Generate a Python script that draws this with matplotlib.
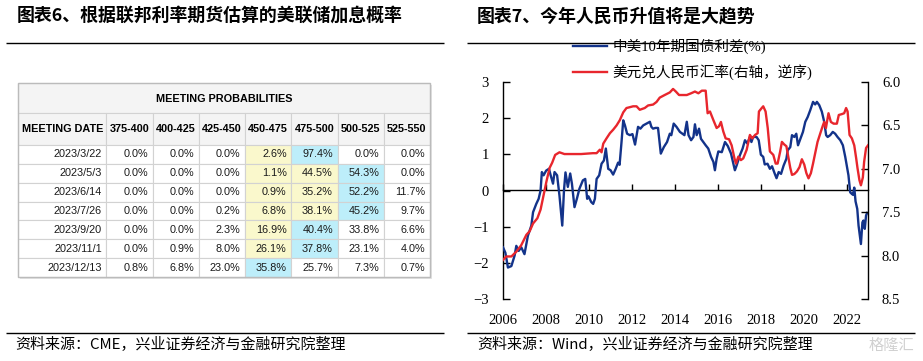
import matplotlib
matplotlib.use("Agg")
import matplotlib.pyplot as plt
from matplotlib.patches import Rectangle
from matplotlib.ticker import FormatStrFormatter
import numpy as np

# ---------------- data: left table ----------------
table_title = "MEETING PROBABILITIES"
first_col_label = "MEETING DATE"
meeting_dates = ["2023/3/22", "2023/5/3", "2023/6/14", "2023/7/26",
                 "2023/9/20", "2023/11/1", "2023/12/13"]
rate_ranges = ["375-400", "400-425", "425-450", "450-475",
               "475-500", "500-525", "525-550"]
probabilities = [
    [0.0, 0.0, 0.0, 2.6, 97.4, 0.0, 0.0],
    [0.0, 0.0, 0.0, 1.1, 44.5, 54.3, 0.0],
    [0.0, 0.0, 0.0, 0.9, 35.2, 52.2, 11.7],
    [0.0, 0.0, 0.2, 6.8, 38.1, 45.2, 9.7],
    [0.0, 0.0, 2.3, 16.9, 40.4, 33.8, 6.6],
    [0.0, 0.9, 8.0, 26.1, 37.8, 23.1, 4.0],
    [0.8, 6.8, 23.0, 35.8, 25.7, 7.3, 0.7],
]
# 0 = plain, 1 = yellow, 2 = cyan
highlight = [
    [0, 0, 0, 1, 2, 0, 0],
    [0, 0, 0, 1, 1, 2, 0],
    [0, 0, 0, 1, 1, 2, 0],
    [0, 0, 0, 1, 1, 2, 0],
    [0, 0, 0, 1, 2, 0, 0],
    [0, 0, 0, 1, 2, 0, 0],
    [0, 0, 0, 2, 0, 0, 0],
]

# ---------------- data: right chart ----------------
spread_label = "中美10年期国债利差(%)"
fx_label = "美元兑人民币汇率(右轴，逆序)"
spread_years = [
    2006.00, 2006.11, 2006.23, 2006.39, 2006.54, 2006.62, 2006.73, 2006.85, 2007.00, 2007.16,
    2007.32, 2007.40, 2007.55, 2007.66, 2007.75, 2007.81, 2007.89, 2008.01, 2008.14, 2008.22,
    2008.33, 2008.40, 2008.52, 2008.63, 2008.76, 2008.84, 2008.91, 2009.02, 2009.13, 2009.21,
    2009.33, 2009.44, 2009.56, 2009.72, 2009.83, 2009.92, 2009.98, 2010.11, 2010.20, 2010.28,
    2010.36, 2010.48, 2010.59, 2010.70, 2010.79, 2010.90, 2011.01, 2011.13, 2011.25, 2011.36,
    2011.43, 2011.52, 2011.60, 2011.68, 2011.78, 2011.91, 2012.03, 2012.15, 2012.29, 2012.40,
    2012.53, 2012.68, 2012.84, 2012.91, 2012.99, 2013.10, 2013.22, 2013.35, 2013.49, 2013.64,
    2013.77, 2013.84, 2013.95, 2014.08, 2014.24, 2014.36, 2014.45, 2014.56, 2014.64, 2014.76,
    2014.87, 2014.94, 2015.02, 2015.13, 2015.22, 2015.33, 2015.44, 2015.56, 2015.69, 2015.80,
    2015.87, 2015.95, 2016.03, 2016.19, 2016.34, 2016.47, 2016.62, 2016.73, 2016.80, 2016.88,
    2017.03, 2017.16, 2017.27, 2017.38, 2017.50, 2017.57, 2017.65, 2017.81, 2017.91, 2018.01,
    2018.12, 2018.19, 2018.32, 2018.43, 2018.53, 2018.66, 2018.74, 2018.84, 2018.95, 2019.07,
    2019.20, 2019.26, 2019.38, 2019.46, 2019.57, 2019.66, 2019.74, 2019.85, 2019.97, 2020.08,
    2020.19, 2020.31, 2020.44, 2020.54, 2020.62, 2020.73, 2020.85, 2020.96, 2021.05, 2021.12,
    2021.24, 2021.36, 2021.47, 2021.58, 2021.71, 2021.83, 2021.94, 2022.01, 2022.09, 2022.17,
    2022.24, 2022.30, 2022.36, 2022.42, 2022.50, 2022.56, 2022.67, 2022.74, 2022.79, 2022.85,
    2022.91, 2022.96,
]
spread_values = [
    -1.57, -1.72, -2.13, -2.09, -1.80, -1.53, -1.67, -1.57, -1.76, -1.25,
    -0.97, -0.60, -0.37, -0.23, 0.00, 0.51, 0.42, 0.55, 0.60, 0.42,
    0.19, 0.51, 0.42, -0.14, -0.97, 0.00, 0.50, 0.10, 0.47, 0.19,
    -0.46, -0.23, 0.05, 0.28, 0.32, -0.23, -0.16, -0.32, -0.37, -0.23,
    0.32, 0.42, 0.74, 0.83, 1.16, 0.60, 0.56, 0.44, 0.60, 0.77,
    0.71, 1.34, 1.94, 1.80, 1.57, 1.53, 1.56, 1.27, 1.76, 1.71,
    1.80, 1.85, 1.90, 1.76, 1.71, 1.73, 1.73, 1.02, 1.20, 1.34,
    1.57, 1.53, 1.85, 1.76, 1.62, 1.57, 1.53, 1.90, 1.53, 1.39,
    1.48, 1.83, 1.53, 1.71, 1.43, 1.34, 1.25, 1.16, 0.93, 0.79,
    0.56, 0.88, 1.08, 1.06, 1.34, 1.23, 1.02, 0.74, 0.56, 0.69,
    0.97, 1.16, 1.39, 1.30, 1.48, 1.34, 1.48, 1.48, 1.39, 0.99,
    0.93, 0.72, 0.74, 0.60, 0.67, 0.46, 0.34, 0.51, 0.46, 0.69,
    0.88, 1.11, 1.20, 1.53, 1.48, 1.57, 1.25, 1.43, 1.62, 1.90,
    2.03, 2.22, 2.45, 2.38, 2.45, 2.36, 2.18, 1.90, 1.53, 1.48,
    1.53, 1.62, 1.57, 1.48, 1.39, 1.25, 0.93, 0.69, 0.42, -0.05,
    -0.09, -0.12, 0.08, -0.30, -0.51, -0.97, -1.48, -0.88, -0.83, -1.06,
    -0.69, -0.62,
]
fx_years = [
    2006.00, 2006.15, 2006.39, 2006.62, 2006.85, 2007.09, 2007.24, 2007.40, 2007.60, 2007.75,
    2007.86, 2008.02, 2008.17, 2008.29, 2008.43, 2008.63, 2008.86, 2009.18, 2009.64, 2010.19,
    2010.36, 2010.51, 2010.59, 2010.67, 2010.82, 2010.98, 2011.13, 2011.29, 2011.44, 2011.60,
    2011.75, 2011.91, 2012.06, 2012.22, 2012.37, 2012.60, 2012.76, 2012.99, 2013.15, 2013.30,
    2013.53, 2013.77, 2013.92, 2014.05, 2014.20, 2014.36, 2014.56, 2014.76, 2014.94, 2015.10,
    2015.26, 2015.44, 2015.53, 2015.64, 2015.80, 2015.95, 2016.06, 2016.15, 2016.26, 2016.37,
    2016.53, 2016.65, 2016.78, 2016.85, 2016.96, 2017.08, 2017.19, 2017.35, 2017.50, 2017.61,
    2017.74, 2017.86, 2017.92, 2018.05, 2018.12, 2018.23, 2018.33, 2018.43, 2018.59, 2018.70,
    2018.79, 2018.91, 2018.99, 2019.10, 2019.20, 2019.30, 2019.38, 2019.46, 2019.57, 2019.69,
    2019.81, 2019.92, 2020.03, 2020.13, 2020.23, 2020.34, 2020.44, 2020.54, 2020.65, 2020.78,
    2020.90, 2020.96, 2021.04, 2021.16, 2021.27, 2021.40, 2021.55, 2021.64, 2021.78, 2021.89,
    2021.98, 2022.05, 2022.14, 2022.25, 2022.36, 2022.45, 2022.51, 2022.60, 2022.67, 2022.76,
    2022.82, 2022.91, 2023.00,
]
fx_values = [
    8.05, 8.01, 8.01, 7.955, 7.88, 7.76, 7.72, 7.63, 7.57, 7.47,
    7.34, 7.15, 6.99, 6.93, 6.84, 6.81, 6.83, 6.83, 6.83, 6.82,
    6.82, 6.78, 6.81, 6.71, 6.65, 6.59, 6.55, 6.50, 6.44, 6.35,
    6.30, 6.29, 6.28, 6.28, 6.32, 6.30, 6.27, 6.26, 6.23, 6.18,
    6.15, 6.12, 6.08, 6.11, 6.15, 6.15, 6.15, 6.13, 6.11, 6.13,
    6.10, 6.10, 6.36, 6.34, 6.44, 6.53, 6.51, 6.46, 6.57, 6.65,
    6.66, 6.73, 6.88, 6.94, 6.86, 6.90, 6.88, 6.78, 6.61, 6.65,
    6.61, 6.59, 6.34, 6.30, 6.28, 6.34, 6.53, 6.80, 6.84, 6.94,
    6.94, 6.80, 6.69, 6.72, 6.74, 6.88, 6.99, 7.07, 7.06, 7.03,
    6.98, 6.89, 6.95, 7.05, 7.11, 7.05, 6.94, 6.82, 6.69, 6.59,
    6.50, 6.46, 6.53, 6.36, 6.46, 6.48, 6.48, 6.38, 6.37, 6.36,
    6.30, 6.34, 6.61, 6.65, 6.73, 6.88, 6.99, 7.13, 7.19, 7.10,
    6.92, 6.76, 6.73,
]
x_tick_years = [2006, 2008, 2010, 2012, 2014, 2016, 2018, 2020, 2022]
left_ticks = [-3, -2, -1, 0, 1, 2, 3]
right_ticks = [6.0, 6.5, 7.0, 7.5, 8.0, 8.5]

title_left = "图表6、根据联邦利率期货估算的美联储加息概率"
title_right = "图表7、今年人民币升值将是大趋势"
source_left = "资料来源：CME，兴业证券经济与金融研究院整理"
source_right = "资料来源：Wind，兴业证券经济与金融研究院整理"

# ---------------- style ----------------
CJK = ['Noto Sans CJK SC', 'DejaVu Sans']
SERIF_CJK = ['Liberation Serif', 'Noto Sans CJK SC']
BLUE = '#13338A'
RED = '#E8262D'
YELLOW = '#FAF8CC'
CYAN = '#BDEEFA'
HEAD_BG = '#F4F4F4'
GRID = '#D2D2D2'

W, H = 923, 361
fig = plt.figure(figsize=(W / 100, H / 100), dpi=100)
fig.patch.set_facecolor('white')

# overlay in pixel coordinates for titles, rules and table
ov = fig.add_axes([0, 0, 1, 1])
ov.set_xlim(0, W)
ov.set_ylim(H, 0)
ov.axis('off')

ov.text(17, 16, title_left, fontsize=12.9, fontweight='bold', va='center', ha='left', family=CJK)
ov.text(477, 16, title_right, fontsize=12.9, fontweight='bold', va='center', ha='left', family=CJK)
for x0, x1 in [(6, 444), (467, 915)]:
    ov.plot([x0, x1], [42.5, 42.5], color='black', lw=1.0, solid_capstyle='butt')
    ov.plot([x0, x1], [332.5, 332.5], color='black', lw=1.0, solid_capstyle='butt')
ov.text(15, 345, source_left, fontsize=10.8, va='center', ha='left', family=CJK)
ov.text(477, 345, source_right, fontsize=10.8, va='center', ha='left', family=CJK)
ov.text(914, 345, "格隆汇", fontsize=11, va='center', ha='right', family=CJK, color='#D0D0D0')

# ---------------- table ----------------
tx0, tx1 = 18, 430
ty0, ty_mid, ty1 = 83, 113, 277
# shadow + header band
ov.add_patch(Rectangle((tx0 + 2, ty0 + 2), tx1 - tx0, ty1 - ty0, facecolor='#E4E4E4', edgecolor='none', zorder=1))
ov.add_patch(Rectangle((tx0, ty0), tx1 - tx0, ty_mid - ty0, facecolor=HEAD_BG, edgecolor=GRID, lw=0.8, zorder=2))
ov.text((tx0 + tx1) / 2, (ty0 + ty_mid) / 2 + 1, table_title, ha='center', va='center',
        fontsize=7.8, fontweight='bold', family='Liberation Sans', zorder=3)

col_labels = [first_col_label] + rate_ranges
cell_text = [[d] + [f"{v:.1f}%" for v in row] for d, row in zip(meeting_dates, probabilities)]
fill_map = {0: 'white', 1: YELLOW, 2: CYAN}
cell_colours = [['white'] + [fill_map[h] for h in hrow] for hrow in highlight]

tab = ov.table(cellText=cell_text, colLabels=col_labels, cellColours=cell_colours,
               cellLoc='right', colLoc='center',
               bbox=[tx0 / W, 1 - ty1 / H, (tx1 - tx0) / W, (ty1 - ty_mid) / H])
tab.auto_set_font_size(False)
tab.set_zorder(3)
for (r, c), cell in tab.get_celld().items():
    cell.set_width(88.4 if c == 0 else 46.2)
    cell.set_height(32 if r == 0 else 18.85)
    cell.set_edgecolor(GRID)
    cell.set_linewidth(0.8)
    txt = cell.get_text()
    txt.set_fontsize(7.8)
    txt.set_fontfamily('Liberation Sans')
    txt.set_color('#1a1a1a')
    if r == 0:
        cell.set_facecolor(HEAD_BG)
        txt.set_fontweight('bold')
        txt.set_color('black')
    if c == 0 and r > 0:
        cell.PAD = 0.05
ov.add_patch(Rectangle((tx0, ty0), tx1 - tx0, ty1 - ty0, facecolor='none', edgecolor='#BBBBBB', lw=1.0, zorder=4))

# ---------------- right chart ----------------
ax = fig.add_axes([503 / W, 1 - 299 / H, 365 / W, 217 / H])
ax.patch.set_alpha(0)
ax.plot(spread_years, spread_values, color=BLUE, lw=1.7, label=spread_label, zorder=3)
ax.set_xlim(2006, 2023)
ax.set_ylim(-3, 3)
ax.set_yticks(left_ticks)
ax.set_xticks(x_tick_years)
ax.set_xticklabels([str(y) for y in x_tick_years])
for s in ['top', 'bottom', 'right']:
    ax.spines[s].set_visible(False)
ax.spines['left'].set_linewidth(1.0)
ax.tick_params(axis='y', direction='in', length=5, width=1, pad=10, labelsize=10.5)
ax.tick_params(axis='x', length=0, pad=11, labelsize=10.5)
for lab in ax.get_xticklabels() + ax.get_yticklabels():
    lab.set_fontfamily('Liberation Serif')

sec = ax.secondary_xaxis(0.5)
sec.set_xticks(x_tick_years)
sec.tick_params(axis='x', direction='out', length=4, width=1, labeltop=False, labelbottom=False)
for s in sec.spines.values():
    s.set_linewidth(1.0)

ax2 = ax.twinx()
ax2.plot(fx_years, fx_values, color=RED, lw=1.7, label=fx_label, zorder=3)
ax2.set_ylim(8.5, 6.0)
ax2.set_yticks(right_ticks)
ax2.yaxis.set_major_formatter(FormatStrFormatter('%.1f'))
for s in ['top', 'bottom', 'left']:
    ax2.spines[s].set_visible(False)
ax2.spines['right'].set_linewidth(1.0)
ax2.tick_params(axis='y', direction='in', length=5, width=1, pad=10, labelsize=10.5)
for lab in ax2.get_yticklabels():
    lab.set_fontfamily('Liberation Serif')

h1, l1 = ax.get_legend_handles_labels()
h2, l2 = ax2.get_legend_handles_labels()
leg = fig.legend(h1 + h2, l1 + l2, loc='center left',
                 bbox_to_anchor=(573 / W, 1 - 59.5 / H), bbox_transform=fig.transFigure,
                 frameon=False, borderpad=0, borderaxespad=0, handlelength=2.35,
                 handletextpad=0.35, labelspacing=0.7,
                 prop={'family': SERIF_CJK, 'size': 10.5})

fig.savefig('out.png', dpi=100, facecolor='white')
